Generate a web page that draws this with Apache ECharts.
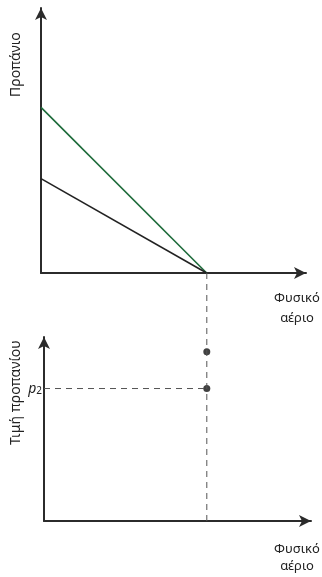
<!DOCTYPE html>
<html>
<head>
<meta charset="utf-8">
<script src="https://cdn.jsdelivr.net/npm/echarts@6/dist/echarts.min.js"></script>
<style>
  html, body { margin: 0; padding: 0; background: #fff; }
  #chart { width: 322px; height: 577px; }
</style>
</head>
<body>
<div id="chart"></div>
<script>
// top panel: two lines meeting on the x axis
const topX = [0, 5];
const greenLine = [5, 0];
const blackLine = [2.85, 0];
// bottom panel
const crossX = 5;
const dotValues = [9.2, 7.2];
const p2 = 7.2;
const guideTop = 13.5; // dashed guide reaches up to the top x axis

const axisStyle = {
  show: true,
  symbol: ['none', 'arrow'],
  symbolSize: [9, 12],
  lineStyle: { color: '#2b2b2b', width: 2 }
};
function plainAxis(gridIndex, max) {
  return {
    type: 'value', gridIndex: gridIndex, min: 0, max: max,
    axisLine: axisStyle, axisTick: { show: false },
    axisLabel: { show: false }, splitLine: { show: false }
  };
}

const chart = echarts.init(document.getElementById('chart'));
chart.setOption({
  animation: false,
  textStyle: { fontFamily: 'Noto Sans' },
  grid: [
    { left: 41, top: 8, width: 265, height: 265 },
    { left: 44, top: 337, width: 267, height: 184 }
  ],
  xAxis: [plainAxis(0, 8), plainAxis(1, 8.2)],
  yAxis: [plainAxis(0, 8), plainAxis(1, 10)],
  series: [
    {
      type: 'line', xAxisIndex: 0, yAxisIndex: 0, symbol: 'none',
      data: topX.map((x, i) => [x, greenLine[i]]),
      lineStyle: { color: '#1d6b3a', width: 1.6 }
    },
    {
      type: 'line', xAxisIndex: 0, yAxisIndex: 0, symbol: 'none',
      data: topX.map((x, i) => [x, blackLine[i]]),
      lineStyle: { color: '#222', width: 1.6 }
    },
    {
      // vertical dashed guide
      type: 'line', xAxisIndex: 1, yAxisIndex: 1, symbol: 'none', clip: false,
      data: [[crossX, 0], [crossX, guideTop]],
      lineStyle: { color: '#555', width: 1, type: [6, 5] }
    },
    {
      // p2 dashed guide
      type: 'line', xAxisIndex: 1, yAxisIndex: 1, symbol: 'none',
      data: [[0, p2], [crossX, p2]],
      lineStyle: { color: '#555', width: 1, type: [6, 5] },
      markPoint: {
        symbol: 'circle', symbolSize: 0,
        data: [{ coord: [0, p2] }],
        label: {
          show: true, position: 'left', distance: 2,
          formatter: '{p|p}{s|2}',
          rich: {
            p: { fontSize: 14, fontStyle: 'italic', color: '#222', fontFamily: 'Noto Sans' },
            s: { fontSize: 10, color: '#222', fontFamily: 'Noto Sans', padding: [6, 0, 0, 0] }
          }
        }
      }
    },
    {
      type: 'scatter', xAxisIndex: 1, yAxisIndex: 1,
      data: dotValues.map(v => [crossX, v]),
      symbolSize: 7, itemStyle: { color: '#111' }
    }
  ],
  graphic: [
    {
      type: 'text', x: 9, y: 97, rotation: Math.PI / 2,
      style: { text: 'Προπάνιο', fontSize: 14, fill: '#222', fontFamily: 'Noto Sans' }
    },
    {
      type: 'text', x: 9, y: 445, rotation: Math.PI / 2,
      style: { text: 'Τιμή προπανίου', fontSize: 14, fill: '#222', fontFamily: 'Noto Sans' }
    },
    {
      type: 'text', x: 297, y: 288,
      style: { text: 'Φυσικό\nαέριο', fontSize: 13, lineHeight: 20, fill: '#222', align: 'center', fontFamily: 'Noto Sans' }
    },
    {
      type: 'text', x: 297, y: 541,
      style: { text: 'Φυσικό\nαέριο', fontSize: 13, lineHeight: 17, fill: '#222', align: 'center', fontFamily: 'Noto Sans' }
    }
  ]
});
</script>
</body>
</html>
